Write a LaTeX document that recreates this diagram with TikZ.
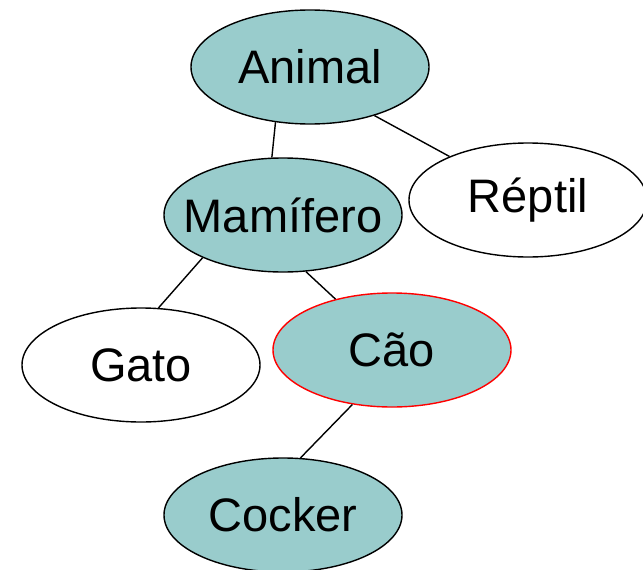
\documentclass[tikz,border=0pt]{standalone}
\usepackage{fontspec}
\setmainfont{Liberation Sans}
\usetikzlibrary{shapes.geometric}
\definecolor{teal1}{HTML}{99CCCC}
\tikzset{
  ell/.style={ellipse, draw=black, line width=1.4pt, minimum width=238pt, minimum height=114pt, inner sep=0pt, font=\fontsize{47}{50}\selectfont},
  filled/.style={ell, fill=teal1},
  plain/.style={ell, fill=white},
  conn/.style={line width=1.4pt, draw=black}
}
\newcommand{\zw}[1]{\makebox[0pt]{#1}}
\begin{document}
\begin{tikzpicture}[x=1pt,y=1pt]
\useasboundingbox (0,0) rectangle (643,-570);
\node[filled] (animal) at (310,-67) {\zw{Animal}};
\node[plain] (reptil) at (528,-200) {\zw{Réptil}};
\node[filled] (mam) at (283,-215) {\zw{Mamífero}};
\node[plain] (gato) at (141,-365) {\zw{Gato}};
\node[filled, draw=red] (cao) at (392,-350) {\zw{Cão}};
\node[filled] (cocker) at (283,-515) {\zw{Cocker}};
\draw[conn] (animal.238.6) -- (mam.101.7);
\draw[conn] (animal.323.3) -- (reptil.151.4);
\draw[conn] (mam.208.8) -- (gato.73.7);
\draw[conn] (mam.292.3) -- (cao.138.6);
\draw[conn] (cao.234.5) -- (cocker.73.4);
\end{tikzpicture}
\end{document}
